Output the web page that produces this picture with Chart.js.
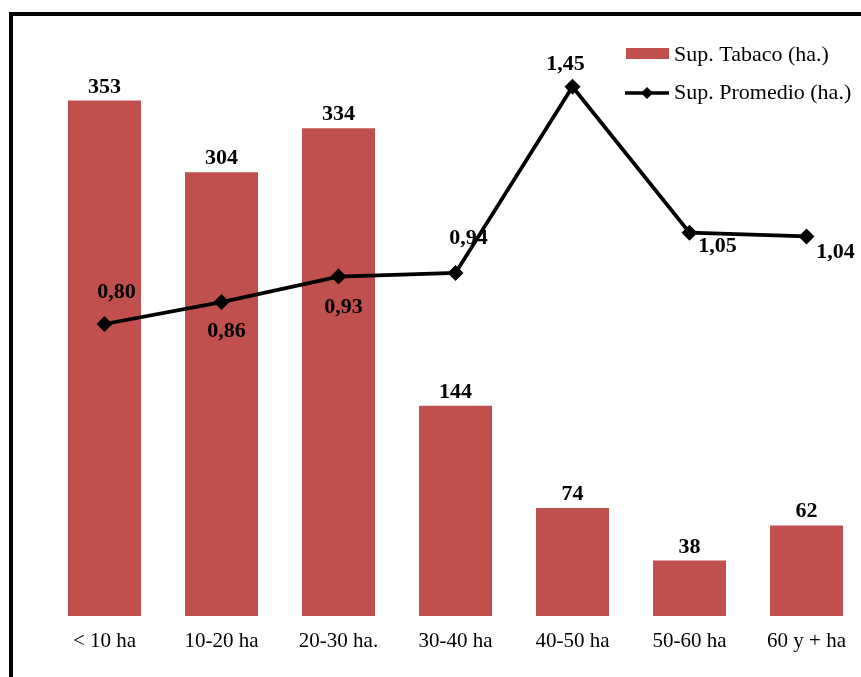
<!DOCTYPE html>
<html>
<head>
<meta charset="utf-8">
<script src="https://cdn.jsdelivr.net/npm/chart.js@4"></script>
<style>
  html, body { margin: 0; padding: 0; background: #fff; overflow: hidden; }
  #wrap { position: relative; width: 861px; height: 677px; overflow: hidden; }
  #frame { position: absolute; left: 9px; top: 12px; width: 900px; height: 700px; border: 4px solid #000; box-sizing: border-box; }
  #chart { position: absolute; left: 0; top: 0; }
</style>
</head>
<body>
<div id="wrap">
  <div id="frame"></div>
  <canvas id="chart" width="880" height="677"></canvas>
</div>
<script>
const categories = ['< 10 ha', '10-20 ha', '20-30 ha.', '30-40 ha', '40-50 ha', '50-60 ha', '60 y + ha'];
const tabaco = [353, 304, 334, 144, 74, 38, 62];
const promedio = [0.80, 0.86, 0.93, 0.94, 1.45, 1.05, 1.04];

// where each average label sits relative to its point (dx, dy)
const promedioLabelOffsets = [[12, -32], [5, 29], [5, 31], [13, -35], [-7, -22], [28, 14], [29, 16]];

const RED = '#C0504D';
const SERIF = '"Liberation Serif", "Times New Roman", serif';

// value labels for both series
const valueLabels = {
  id: 'valueLabels',
  afterDatasetsDraw(chart) {
    const ctx = chart.ctx;
    ctx.save();
    ctx.fillStyle = '#000';
    ctx.font = `bold 22px ${SERIF}`;
    ctx.textAlign = 'center';

    chart.getDatasetMeta(0).data.forEach((bar, i) => {
      ctx.textBaseline = 'alphabetic';
      ctx.fillText(String(tabaco[i]), bar.x, bar.y - 8);
    });

    chart.getDatasetMeta(1).data.forEach((pt, i) => {
      const [dx, dy] = promedioLabelOffsets[i];
      ctx.textBaseline = 'middle';
      ctx.fillText(promedio[i].toFixed(2).replace('.', ','), pt.x + dx, pt.y + dy);
    });
    ctx.restore();
  }
};

// legend in the top right corner
const cornerLegend = {
  id: 'cornerLegend',
  afterDraw(chart) {
    const ctx = chart.ctx;
    const sets = chart.data.datasets;
    ctx.save();
    ctx.font = `22px ${SERIF}`;
    ctx.textBaseline = 'middle';
    ctx.textAlign = 'left';

    ctx.fillStyle = RED;
    ctx.fillRect(626, 48, 43, 11);
    ctx.fillStyle = '#000';
    ctx.fillText(sets[0].label, 674, 55);

    ctx.strokeStyle = '#000';
    ctx.lineWidth = 3.5;
    ctx.beginPath();
    ctx.moveTo(625, 93);
    ctx.lineTo(669, 93);
    ctx.stroke();
    ctx.beginPath();
    ctx.moveTo(647, 87);
    ctx.lineTo(653, 93);
    ctx.lineTo(647, 99);
    ctx.lineTo(641, 93);
    ctx.closePath();
    ctx.fill();
    ctx.fillText(sets[1].label, 674, 93);
    ctx.restore();
  }
};

new Chart(document.getElementById('chart'), {
  data: {
    labels: categories,
    datasets: [
      {
        type: 'bar',
        label: 'Sup. Tabaco (ha.)',
        data: tabaco,
        yAxisID: 'y',
        backgroundColor: RED,
        categoryPercentage: 1,
        barPercentage: 0.624,
        order: 1
      },
      {
        type: 'line',
        label: 'Sup. Promedio (ha.)',
        data: promedio,
        yAxisID: 'y2',
        borderColor: '#000',
        backgroundColor: '#000',
        borderWidth: 3.8,
        pointStyle: 'rectRot',
        pointRadius: 8,
        pointBorderWidth: 0,
        tension: 0,
        order: 0
      }
    ]
  },
  options: {
    responsive: false,
    animation: false,
    layout: { padding: { left: 46, right: 15, top: 32, bottom: 0 } },
    plugins: { legend: { display: false }, tooltip: { enabled: false } },
    scales: {
      x: {
        grid: { display: false, drawTicks: false },
        border: { display: false },
        ticks: {
          color: '#000',
          font: { family: SERIF, size: 21 },
          padding: 13,
          maxRotation: 0,
          autoSkip: false
        },
        afterFit(scale) { scale.height = 61; }
      },
      y: { display: false, min: 0, max: 400 },
      y2: { display: false, position: 'right', min: 0, max: 1.6 }
    }
  },
  plugins: [valueLabels, cornerLegend]
});
</script>
</body>
</html>
